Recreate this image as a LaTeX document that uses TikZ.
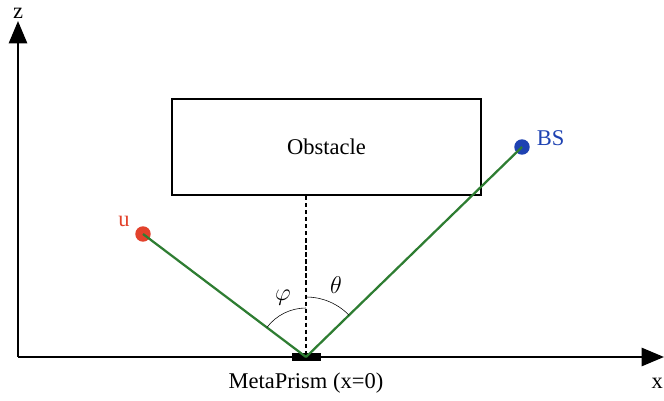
\documentclass[tikz,border=0pt]{standalone}
\usepackage{fontspec}
\setmainfont{Liberation Serif}
\usetikzlibrary{arrows.meta,calc}

\definecolor{pathgreen}{RGB}{46,125,50}
\definecolor{userred}{RGB}{226,66,44}
\definecolor{bsblue}{RGB}{30,66,178}

\tikzset{
    axis/.style={line width=1.6pt, -{Triangle[length=16pt,width=13pt]}},
    dot/.style={circle, inner sep=0pt, minimum size=11pt},
    ray/.style={pathgreen, line width=1.6pt},
    lbl/.style={font=\fontsize{16}{19}\selectfont},
}

\begin{document}
\begin{tikzpicture}[x=0.025cm, y=0.025cm]

    % 描画範囲
    \useasboundingbox (0,0) rectangle (664,401);

    % 座標軸
    \coordinate (orig) at (18,44);
    \coordinate (xend) at (664,44);
    \coordinate (zend) at (18,380);
    \draw [axis] (orig) -- (xend);
    \draw [axis] (orig) -- (zend);
    \node [lbl, inner sep=1pt] (zlab) at (18,388) {z};
    \node [lbl, inner sep=1pt, anchor=west] (xlab) at (650,18) {x};

    % 障害物
    \node [draw, line width=1.6pt, minimum width=309*0.025cm, minimum height=96*0.025cm,
           lbl] (obst) at (326.5,254) {Obstacle};

    % MetaPrism
    \coordinate (O) at (306,44);
    \draw [line width=1.6pt, dash pattern=on 3pt off 2pt] (obst.south -| O) -- (O);
    \node [fill=black, minimum width=29*0.025cm, minimum height=8*0.025cm,
           inner sep=0pt] (mp) at (O) {};
    \node [lbl] (mplab) at (306,18) {MetaPrism (x=0)};

    % ユーザと基地局
    \node [dot, fill=userred] (u) at (143,167) {};
    \node [lbl, text=userred] (ulab) at (124,180) {u};
    \node [dot, fill=bsblue] (bs) at (522,254) {};
    \node [lbl, text=bsblue, anchor=west] (bslab) at (532,263) {BS};

    % 反射経路
    \draw [ray] (u.center) -- (O);
    \draw [ray] (O) -- (bs.center);

    % 角度
    \draw [thin] ($(O)+(143:49)$) arc [start angle=143, end angle=90, radius=49];
    \draw [thin] ($(O)+(90:60)$) arc [start angle=90, end angle=44, radius=60];
    \node [lbl] (phi) at (283,103) {$\varphi$};
    \node [lbl] (theta) at (336,116) {$\theta$};
    %
\end{tikzpicture}
\end{document}
